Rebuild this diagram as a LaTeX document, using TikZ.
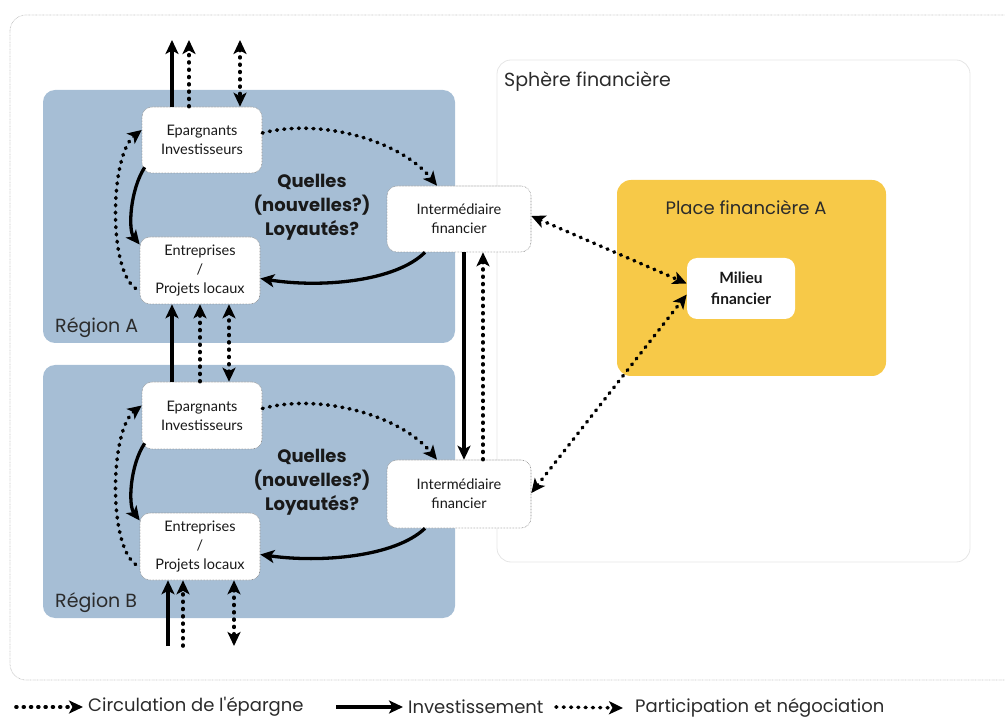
\documentclass[tikz,border=0pt]{standalone}
\usepackage{fontspec}
\setmainfont{Lato}
\newfontfamily\geo{Poppins}
\usetikzlibrary{arrows.meta}
\definecolor{regblue}{HTML}{A6BED5}
\definecolor{placey}{HTML}{F7C948}
\definecolor{txt}{HTML}{2B2B2B}
\begin{document}
\begin{tikzpicture}[x=1pt,y=-1pt,
  box/.style={draw=black!45, line width=0.6pt, dash pattern=on 0.6pt off 0.9pt, fill=white,
    rounded corners=10pt, align=center, inner sep=0pt, text=black!90,
    font=\fontsize{14.5}{19}\selectfont},
  sarr/.style={line width=3.3pt, -{Stealth[length=14pt,width=13pt,inset=3.5pt]}},
  darr/.style={line width=3.6pt, dash pattern=on 0.9pt off 6.4pt, line cap=round,
    -{Stealth[length=14pt,width=13pt,inset=3.5pt]}},
  ddarr/.style={line width=3.6pt, dash pattern=on 0.9pt off 6.4pt, line cap=round,
    {Stealth[length=14pt,width=13pt,inset=3.5pt]}-{Stealth[length=14pt,width=13pt,inset=3.5pt]}},
  geolab/.style={font=\geo\fontsize{19}{21}\selectfont, text=txt, inner sep=0pt},
  leglab/.style={font=\geo\fontsize{18}{20}\selectfont, text=txt, inner sep=0pt},
  quest/.style={font=\geo\bfseries\fontsize{18}{24}\selectfont, text=black!90, align=center, inner sep=0pt}
]
\useasboundingbox (0,0) rectangle (1005,719);

% outer frame
\draw[gray!45, line width=0.7pt, dash pattern=on 0.7pt off 0.7pt, rounded corners=16pt]
  (10,15) rectangle (1040,680);

% sphere financiere
\draw[gray!20, line width=0.8pt, rounded corners=14pt] (497,60) rectangle (970,562);
\node[geolab, anchor=west] (sph) at (504,82) {Sphère financière};

% regions
\fill[regblue, rounded corners=12pt] (43,90) rectangle (455,343);
\fill[regblue, rounded corners=12pt] (43,365) rectangle (455,618);
\node[geolab, anchor=west] (rA) at (55,328) {Région A};
\node[geolab, anchor=west] (rB) at (55,603) {Région B};

% place financiere
\fill[placey, rounded corners=14pt] (617,180) rectangle (886,376);
\node[leglab] (pfA) at (746,208) {Place financière A};

% boxes
\node[box, minimum width=120pt, minimum height=66pt] (EpA) at (202,140) {Epargnants\\Investisseurs};
\node[box, minimum width=120pt, minimum height=67pt] (EnA) at (200,270.5) {Entreprises\\/\\Projets locaux};
\node[box, minimum width=144pt, minimum height=66pt] (IntA) at (459,219) {Intermédiaire\\financier};
\node[box, minimum width=120pt, minimum height=67pt] (EpB) at (202,415.5) {Epargnants\\Investisseurs};
\node[box, minimum width=120pt, minimum height=67pt] (EnB) at (200,546.5) {Entreprises\\/\\Projets locaux};
\node[box, minimum width=144pt, minimum height=68pt] (IntB) at (459,494) {Intermédiaire\\financier};
\node[box, draw=none, minimum width=108pt, minimum height=61pt, font=\bfseries\fontsize{15.5}{21}\selectfont] (Mil) at (741,288.5) {Milieu\\financier};

% questions
\node[quest] (qA) at (312,207) {Quelles\\(nouvelles?)\\Loyautés?};
\node[quest] (qB) at (312,482) {Quelles\\(nouvelles?)\\Loyautés?};

% free ends
\coordinate (topY) at (0,40);
\coordinate (botY) at (0,646);

% top of region A
\draw[sarr] ([xshift=-30pt]EpA.north) -- ([xshift=-30pt]EpA.north |- topY);
\draw[darr] ([xshift=-13pt]EpA.north) -- ([xshift=-13pt]EpA.north |- topY);
\draw[ddarr] ([xshift=38pt]EpA.north |- topY) -- ([xshift=38pt]EpA.north);

% between A and B
\draw[sarr] ([xshift=-30pt]EpB.north) -- ([xshift=-30pt]EpB.north |- EnA.south);
\draw[darr] ([xshift=-2pt]EpB.north) -- ([xshift=-2pt]EpB.north |- EnA.south);
\draw[ddarr] ([xshift=27pt]EpB.north) -- ([xshift=27pt]EpB.north |- EnA.south);

% bottom of region B
\draw[sarr] ([xshift=-32pt]EnB.south |- botY) -- ([xshift=-32pt]EnB.south);
\draw[darr] ([xshift=-17pt]EnB.south |- botY) -- ([xshift=-17pt]EnB.south);
\draw[ddarr] ([xshift=34pt]EnB.south) -- ([xshift=34pt]EnB.south |- botY);

% intermediaires
\draw[sarr] ([xshift=5pt]IntA.south) -- ([xshift=5pt]IntB.north);
\draw[darr] ([xshift=24pt]IntB.north) -- ([xshift=24pt]IntA.south);

% milieu
\draw[ddarr] ([yshift=3pt]IntA.east) -- ([yshift=5pt]Mil.west);
\draw[ddarr] ([yshift=1pt]IntB.east) -- ([yshift=-6pt]Mil.west);

% region A loops
\draw[darr] ([yshift=7pt]EpA.east) .. controls (320,118) and (400,140) .. ([xshift=-22pt]IntA.north);
\draw[sarr] ([xshift=-34pt]IntA.south) .. controls (395,282) and (320,288) .. ([yshift=-8pt]EnA.east);
\draw[sarr] ([xshift=3pt,yshift=6pt]EpA.south west) .. controls (130,190) and (128,230) .. ([yshift=26pt]EnA.west);
\draw[darr] ([xshift=-4pt,yshift=-18pt]EnA.west) .. controls (108,270) and (110,155) .. ([yshift=10pt]EpA.west);

% region B loops
\draw[darr] ([yshift=7pt]EpB.east) .. controls (320,393) and (400,415) .. ([xshift=-22pt]IntB.north);
\draw[sarr] ([xshift=-34pt]IntB.south) .. controls (395,557) and (320,563) .. ([yshift=-8pt]EnB.east);
\draw[sarr] ([xshift=3pt,yshift=6pt]EpB.south west) .. controls (130,465) and (128,505) .. ([yshift=26pt]EnB.west);
\draw[darr] ([xshift=-4pt,yshift=-18pt]EnB.west) .. controls (108,545) and (110,430) .. ([yshift=10pt]EpB.west);

% legend
\node[leglab, anchor=west] (L1) at (88,707) {Circulation de l{\char39}épargne};
\node[leglab, anchor=west] (L2) at (408,707) {Investissement};
\node[leglab, anchor=west] (L3) at (635,708) {Participation et négociation};
\coordinate (L1s) at (16,707);
\coordinate (L2s) at (336,707);
\coordinate (L3s) at (556,707);
\draw[darr] (L1s) -- ([xshift=-5pt]L1.west);
\draw[sarr] (L2s) -- ([xshift=-5pt]L2.west);
\draw[darr] (L3s) -- ([xshift=-12pt]L3.west);
\end{tikzpicture}
\end{document}
